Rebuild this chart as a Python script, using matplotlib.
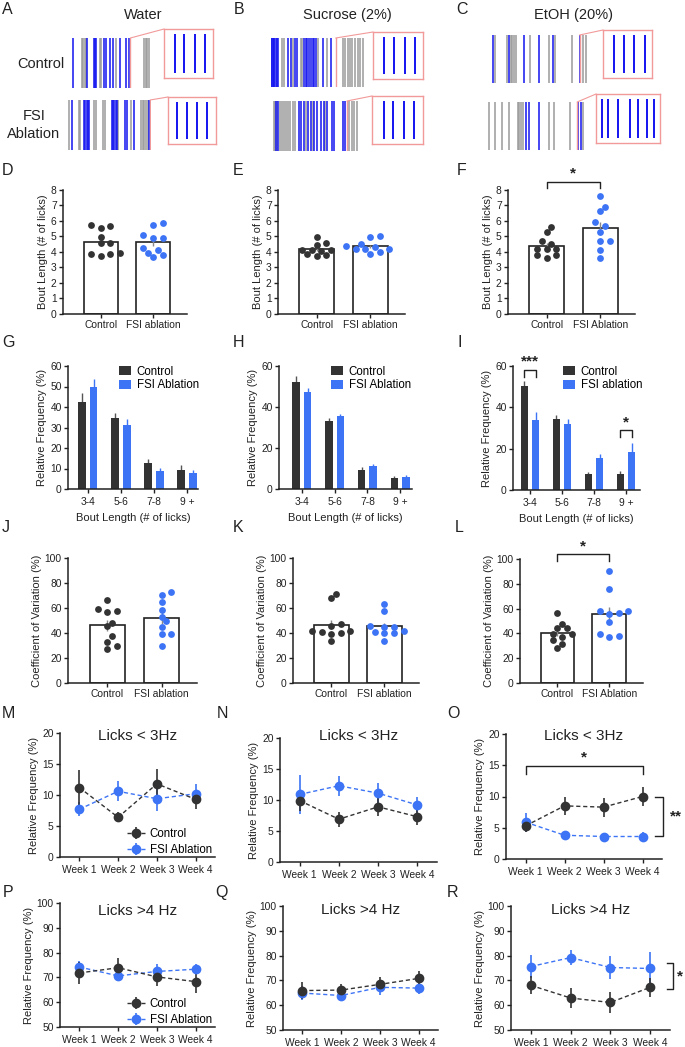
import matplotlib
matplotlib.use('Agg')
import matplotlib.pyplot as plt
import matplotlib.transforms as mtransforms
from matplotlib.patches import ConnectionPatch
import numpy as np

plt.rcParams['font.family'] = ['Liberation Sans', 'DejaVu Sans']

# ============================================================
# Data
# ============================================================
# raster lick times (a.u.) for example sessions: (window, blue, gray, zoomed time)
water_ctrl_win = (165, 345)
water_ctrl_blue = [167, 200, 214, 217, 220, 238, 243, 251, 259, 274, 287, 295]
water_ctrl_gray = [188, 191, 194, 197, 229, 232, 266, 329, 333, 337, 341]
water_ctrl_zoom = 298
water_fsi_win = (155, 345)
water_fsi_blue = [165, 192, 195, 198, 201, 204, 255, 258, 261, 264, 267, 285, 290, 305, 341]
water_fsi_gray = [157, 180, 183, 215, 220, 236, 240, 270, 300, 322, 326, 330, 334, 338]
water_fsi_zoom = 343
suc_ctrl_win = (620, 835)
suc_ctrl_blue = [620, 622, 624, 626, 628, 631, 634, 637, 658, 665, 675, 679, 695, 699,
                 703, 707, 711, 715, 719, 723, 738, 758]
suc_ctrl_gray = [645, 650, 670, 688, 692, 728, 748, 785, 790, 795, 800, 806, 812, 818, 824, 830]
suc_ctrl_zoom = 768
suc_fsi_win = (625, 825)
suc_fsi_blue = [633, 637, 685, 690, 697, 705, 712, 720, 727, 735, 743, 750, 760, 765, 785, 791]
suc_fsi_gray = [627, 630, 634, 640, 645, 650, 655, 660, 665, 670, 675, 700, 718, 745,
                800, 806, 812, 818]
suc_fsi_zoom = 795
etoh_ctrl_win = (1125, 1345)
etoh_ctrl_blue = [1130, 1166, 1200, 1235, 1268, 1330]
etoh_ctrl_gray = [1135, 1162, 1170, 1174, 1178, 1182, 1215, 1258, 1272, 1310, 1336, 1343]
etoh_ctrl_zoom = 1328
etoh_fsi_win = (1118, 1340)
etoh_fsi_blue = [1205, 1212, 1235, 1325, 1330]
etoh_fsi_gray = [1120, 1135, 1150, 1165, 1186, 1190, 1194, 1198, 1258, 1270, 1305, 1336]
etoh_fsi_zoom = 1322

# zoomed-in burst (fraction of inset width)
water_ctrl_burst = [0.22, 0.40, 0.63, 0.83]
water_fsi_burst = [0.18, 0.39, 0.61, 0.82]
suc_ctrl_burst = [0.22, 0.42, 0.63, 0.84]
suc_fsi_burst = [0.23, 0.41, 0.63, 0.83]
etoh_ctrl_burst = [0.22, 0.43, 0.64, 0.85]
etoh_fsi_burst = [0.10, 0.19, 0.34, 0.53, 0.66, 0.79, 0.91]

# bout length (# of licks), one point per animal
D_ctrl = [5.75, 5.7, 5.55, 4.95, 4.55, 4.6, 3.75, 3.95, 3.85, 3.9]
D_fsi = [5.75, 5.9, 5.1, 4.9, 4.9, 4.1, 3.95, 4.25, 3.65, 3.8]
E_ctrl = [4.47, 4.6, 4.95, 4.13, 4.13, 4.04, 3.8, 3.85, 3.74, 4.1]
E_fsi = [4.5, 4.3, 4.99, 5.03, 4.17, 4.17, 4.39, 3.87, 4.17, 4.02]
F_ctrl = [4.53, 4.2, 5.26, 5.6, 3.78, 4.74, 4.2, 3.78, 3.6, 4.2]
F_fsi = [7.62, 6.67, 6.93, 5.92, 5.69, 5.32, 4.68, 4.68, 4.14, 3.6]

# relative frequency of bout lengths (%)
bins = ['3-4', '5-6', '7-8', '9 +']
G_ctrl = [42.2, 34.8, 12.6, 9.4]
G_ctrl_err = [4.7, 2.1, 2.1, 2.4]
G_fsi = [49.8, 31.4, 8.7, 7.6]
G_fsi_err = [4.1, 2.6, 1.7, 1.8]
H_ctrl = [52.0, 33.0, 9.4, 5.2]
H_ctrl_err = [3.2, 1.5, 1.4, 1.1]
H_fsi = [47.1, 35.5, 11.3, 5.8]
H_fsi_err = [2.3, 1.3, 1.1, 1.1]
I_ctrl = [50.5, 34.2, 7.6, 7.6]
I_ctrl_err = [2.4, 2.1, 1.3, 1.8]
I_fsi = [33.9, 31.9, 15.3, 18.5]
I_fsi_err = [4.0, 2.3, 2.1, 4.1]

# coefficient of variation (%)
J_ctrl = [59.5, 66.1, 56.8, 57.3, 48.3, 45.3, 37.9, 27.5, 33.1, 29.6]
J_fsi = [70.7, 72.5, 64.8, 58.4, 49.3, 53.1, 45.1, 39.5, 38.9, 29.3]
K_ctrl = [71.0, 67.7, 47.5, 41.3, 39.7, 41.3, 33.9, 45.3, 39.2, 41.0]
K_fsi = [63.0, 57.3, 41.6, 45.0, 45.3, 45.0, 40.0, 40.0, 33.9, 41.0]
L_ctrl = [44.5, 47.9, 44.5, 56.8, 39.7, 39.7, 37.0, 34.3, 28.4, 31.4]
L_fsi = [90.1, 75.6, 55.8, 58.2, 58.2, 56.8, 49.3, 37.5, 39.9, 38.3]

# weekly relative frequency (%)
weeks = ['Week 1', 'Week 2', 'Week 3', 'Week 4']
M_ctrl = [11.2, 6.4, 11.8, 9.3]
M_ctrl_err = [2.8, 0.8, 2.4, 1.5]
M_fsi = [7.7, 10.6, 9.4, 10.2]
M_fsi_err = [1.1, 1.6, 2.0, 1.6]
N_ctrl = [9.9, 6.9, 8.9, 7.3]
N_ctrl_err = [1.6, 1.2, 1.4, 1.4]
N_fsi = [10.9, 12.3, 11.1, 9.2]
N_fsi_err = [3.1, 1.6, 1.6, 1.3]
O_ctrl = [5.3, 8.5, 8.3, 10.0]
O_ctrl_err = [1.0, 1.4, 1.5, 1.5]
O_fsi = [5.9, 3.8, 3.6, 3.6]
O_fsi_err = [1.5, 0.5, 0.4, 0.7]
P_ctrl = [71.8, 73.9, 70.2, 68.3]
P_ctrl_err = [4.3, 3.8, 3.8, 4.6]
P_fsi = [74.2, 70.6, 72.4, 73.3]
P_fsi_err = [2.3, 1.5, 3.0, 2.0]
Q_ctrl = [65.9, 66.1, 68.4, 70.8]
Q_ctrl_err = [3.5, 2.5, 3.0, 3.0]
Q_fsi = [64.9, 63.9, 67.2, 66.9]
Q_fsi_err = [3.0, 1.2, 3.0, 2.5]
R_ctrl = [68.0, 62.9, 61.1, 67.2]
R_ctrl_err = [3.6, 4.2, 4.2, 3.8]
R_fsi = [75.6, 79.2, 75.2, 74.8]
R_fsi_err = [4.5, 3.0, 4.5, 6.5]
# ============================================================

DARK = '#333333'
BLUE = '#3d74f5'
RBLUE = '#1414f0'
RGRAY = '#9a9a9a'
PINK = '#f29a9a'
TXT = '#222222'

W, H = 685, 1047
fig = plt.figure(figsize=(W / 100, H / 100), dpi=100)


def add_ax(l, t, r, b):
    return fig.add_axes([l / W, 1 - b / H, (r - l) / W, (b - t) / H])


def ftext(x, y, s, **kw):
    fig.text(x / W, 1 - y / H, s, color=TXT, **kw)


def style(ax):
    for s in ['top', 'right']:
        ax.spines[s].set_visible(False)
    for s in ['left', 'bottom']:
        ax.spines[s].set_linewidth(1.1)
        ax.spines[s].set_color(TXT)
    ax.tick_params(labelsize=7.4, length=3, width=1, pad=1.5, colors=TXT)


# ---------------- A-C rasters ----------------
def raster(rect, inset_rect, win, blue, gray, zoom_t, burst):
    ax = add_ax(*rect)
    ax.vlines(gray, 0, 1, color=RGRAY, lw=1.1)
    ax.vlines(blue, 0, 1, color=RBLUE, lw=1.1)
    ax.axvline(zoom_t, color=PINK, lw=1.0)
    ax.set_xlim(*win)
    ax.set_ylim(0, 1)
    ax.axis('off')
    ins = add_ax(*inset_rect)
    ins.vlines(burst, 0.1, 0.9, color=RBLUE, lw=1.4)
    ins.set_xlim(0, 1)
    ins.set_ylim(0, 1)
    ins.set_xticks([])
    ins.set_yticks([])
    for s in ins.spines.values():
        s.set_color(PINK)
        s.set_linewidth(1.0)
    con = ConnectionPatch(xyA=(zoom_t, 1), coordsA=ax.transData,
                          xyB=(0, 1), coordsB=ins.transAxes, color=PINK, lw=0.8)
    fig.add_artist(con)


raster((72, 38, 151, 88), (164, 29, 213, 78), water_ctrl_win, water_ctrl_blue,
       water_ctrl_gray, water_ctrl_zoom, water_ctrl_burst)
raster((68, 100, 151, 150), (168, 97, 216, 144), water_fsi_win, water_fsi_blue,
       water_fsi_gray, water_fsi_zoom, water_fsi_burst)
raster((271, 38, 365, 87), (373, 32, 423, 79), suc_ctrl_win, suc_ctrl_blue,
       suc_ctrl_gray, suc_ctrl_zoom, suc_ctrl_burst)
raster((273, 101, 360, 151), (372, 96, 423, 144), suc_fsi_win, suc_fsi_blue,
       suc_fsi_gray, suc_fsi_zoom, suc_fsi_burst)
raster((491, 35, 587, 83), (603, 30, 652, 78), etoh_ctrl_win, etoh_ctrl_blue,
       etoh_ctrl_gray, etoh_ctrl_zoom, etoh_ctrl_burst)
raster((488, 102, 585, 150), (596, 94, 660, 143), etoh_fsi_win, etoh_fsi_blue,
       etoh_fsi_gray, etoh_fsi_zoom, etoh_fsi_burst)

ftext(143, 15, 'Water', fontsize=10.5, ha='center', va='center')
ftext(347, 15, 'Sucrose (2%)', fontsize=10.5, ha='center', va='center')
ftext(574, 15, 'EtOH (20%)', fontsize=10.5, ha='center', va='center')
ftext(41, 64, 'Control', fontsize=10.5, ha='center', va='center')
ftext(34, 125, 'FSI\nAblation', fontsize=10.5, ha='center', va='center', linespacing=1.3)


# ---------------- dot + bar panels ----------------
def swarm_offsets(ys, xpx, ypx, d=6.0):
    # simple beeswarm: shift points sideways until they stop overlapping
    placed = []
    order = np.argsort(ys)
    res = np.zeros(len(ys))
    cands = [0]
    for k in range(1, 8):
        cands += [k * d * 0.8, -k * d * 0.8]
    for i in order:
        y = ys[i]
        for c in cands:
            if all(np.hypot(c - px, (y - py) * ypx) >= d for px, py in placed):
                placed.append((c, y))
                res[i] = c / xpx
                break
    return res


def dot_bar(rect, ctrl, fsi, labels, ylim, yticks, ylabel):
    ax = add_ax(*rect)
    style(ax)
    xlim = (-0.72, 1.65)
    xpx = (rect[2] - rect[0]) / (xlim[1] - xlim[0])
    ypx = (rect[3] - rect[1]) / (ylim[1] - ylim[0])
    for i, (vals, col) in enumerate([(ctrl, DARK), (fsi, BLUE)]):
        vals = np.array(vals)
        m = vals.mean()
        sem = vals.std(ddof=1) / np.sqrt(len(vals))
        ax.bar(i, m, width=0.65, color='white', edgecolor=TXT, lw=1.2, zorder=1)
        ax.errorbar(i, m, yerr=sem, color='#888888', lw=1, capsize=0, zorder=2)
        xs = i + swarm_offsets(vals, xpx, ypx)
        ax.scatter(xs, vals, s=24, color=col, lw=0, zorder=3, clip_on=False)
    ax.set_xlim(*xlim)
    ax.set_ylim(*ylim)
    ax.set_yticks(yticks)
    ax.set_xticks([0, 1])
    ax.set_xticklabels(labels)
    ax.set_ylabel(ylabel, fontsize=8, color=TXT, labelpad=2)
    return ax


def bracket(ax, x0, x1, ylow, yhigh, txt, ty):
    ax.plot([x0, x0, x1, x1], [ylow, yhigh, yhigh, ylow], color=TXT, lw=1, clip_on=False)
    ax.text((x0 + x1) / 2, ty, txt, ha='center', va='center', fontsize=11,
            fontweight='bold', color=TXT, clip_on=False)


bl = 'Bout Length (# of licks)'
dot_bar((63, 190, 187, 314), D_ctrl, D_fsi, ['Control', 'FSI ablation'], (0, 8), range(9), bl)
dot_bar((278, 190, 405, 314), E_ctrl, E_fsi, ['Control', 'FSI ablation'], (0, 8), range(9), bl)
axF = dot_bar((508, 190, 635, 314), F_ctrl, F_fsi, ['Control', 'FSI Ablation'], (0, 8), range(9), bl)
bracket(axF, 0, 1, 8.1, 8.5, '*', 9.05)

cv = 'Coefficient of Variation (%)'
dot_bar((68, 558, 197, 683), J_ctrl, J_fsi, ['Control', 'FSI ablation'], (0, 100), range(0, 101, 20), cv)
dot_bar((293, 558, 419, 683), K_ctrl, K_fsi, ['Control', 'FSI ablation'], (0, 100), range(0, 101, 20), cv)
axL = dot_bar((520, 559, 643, 683), L_ctrl, L_fsi, ['Control', 'FSI Ablation'], (0, 100), range(0, 101, 20), cv)
bracket(axL, 0, 1, 98.7, 104, '*', 110)


# ---------------- grouped bars ----------------
def grouped(rect, c, ce, f, fe, yticks, fsi_label, xlim):
    ax = add_ax(*rect)
    style(ax)
    x = np.arange(len(bins))
    off, w = 0.175, 0.23
    ax.bar(x - off, c, width=w, color=DARK, zorder=2, label='Control')
    ax.errorbar(x - off, c, yerr=[np.zeros(4), ce], fmt='none', ecolor='#555555',
                elinewidth=1, capsize=0, zorder=1)
    ax.bar(x + off, f, width=w, color=BLUE, zorder=2, label=fsi_label)
    ax.errorbar(x + off, f, yerr=[np.zeros(4), fe], fmt='none', ecolor=BLUE,
                elinewidth=1, capsize=0, zorder=1)
    ax.set_xlim(*xlim)
    ax.set_ylim(0, 60)
    ax.set_yticks(yticks)
    ax.set_xticks(x)
    ax.set_xticklabels(bins)
    ax.tick_params(axis='x', pad=3)
    ax.set_ylabel('Relative Frequency (%)', fontsize=8, color=TXT, labelpad=2)
    ax.set_xlabel(bl, fontsize=8, color=TXT, labelpad=4)
    ax.legend(loc='upper left', bbox_to_anchor=(0.36, 1.04), frameon=False, fontsize=8.3,
              handlelength=1.0, handleheight=0.9, handletextpad=0.5, labelspacing=0.15,
              borderaxespad=0)
    return ax


grouped((68, 366, 198, 489), G_ctrl, G_ctrl_err, G_fsi, G_fsi_err, range(0, 61, 10),
        'FSI Ablation', (-0.6, 3.33))
grouped((279, 366, 412, 489), H_ctrl, H_ctrl_err, H_fsi, H_fsi_err, range(0, 61, 20),
        'FSI Ablation', (-0.7, 3.36))
axI = grouped((513, 366, 640, 490), I_ctrl, I_ctrl_err, I_fsi, I_fsi_err, range(0, 61, 20),
              'FSI ablation', (-0.53, 3.44))
bracket(axI, -0.175, 0.175, 54.8, 58, '***', 62)
bracket(axI, 2.825, 3.175, 25.5, 29, '*', 32.5)


# ---------------- weekly line panels ----------------
def weekly(rect, c, ce, f, fe, ylim, yticks, title, title_y, legend=False):
    ax = add_ax(*rect)
    style(ax)
    x = np.arange(len(weeks))
    hf = ax.errorbar(x, f, yerr=fe, fmt='o--', color=BLUE, ms=6, lw=1, elinewidth=1.2,
                     capsize=0, dashes=(3, 2), clip_on=False, label='FSI Ablation')
    hc = ax.errorbar(x, c, yerr=ce, fmt='o--', color=DARK, ms=6, lw=1, elinewidth=1.2,
                     capsize=0, dashes=(3, 2), clip_on=False, label='Control')
    ax.set_xlim(-0.5, 3.5)
    ax.set_ylim(*ylim)
    ax.set_yticks(yticks)
    ax.set_xticks(x)
    ax.set_xticklabels(weeks)
    ax.tick_params(axis='x', pad=2.5)
    ax.set_ylabel('Relative Frequency (%)', fontsize=8, color=TXT, labelpad=2)
    ax.text(0.5, title_y, title, transform=ax.transAxes, ha='center', va='center',
            fontsize=11, color=TXT)
    if legend:
        ax.legend([hc, hf], ['Control', 'FSI Ablation'], loc='lower left',
                  bbox_to_anchor=(0.4, -0.03), frameon=False, fontsize=8.3,
                  handlelength=1.6, handletextpad=0.4, labelspacing=0.35, borderaxespad=0)
    return ax


def side_bracket(ax, y0, y1, x_in, x_out, txt, tx):
    tr = mtransforms.blended_transform_factory(ax.transAxes, ax.transData)
    ax.plot([x_in, x_out, x_out, x_in], [y0, y0, y1, y1], color=TXT, lw=1,
            transform=tr, clip_on=False)
    ax.text(tx, (y0 + y1) / 2, txt, transform=tr, ha='left', va='center',
            fontsize=11, fontweight='bold', color=TXT, clip_on=False)


weekly((60, 733, 215, 857), M_ctrl, M_ctrl_err, M_fsi, M_fsi_err, (0, 20), range(0, 21, 5),
       'Licks < 3Hz', 0.975, legend=True)
weekly((280, 738, 437, 862), N_ctrl, N_ctrl_err, N_fsi, N_fsi_err, (0, 20), range(0, 21, 5),
       'Licks < 3Hz', 1.015)
axO = weekly((506, 734, 662, 859), O_ctrl, O_ctrl_err, O_fsi, O_fsi_err, (0, 20),
             range(0, 21, 5), 'Licks < 3Hz', 0.985)
axO.plot([0, 0, 3, 3], [13.6, 14.9, 14.9, 13.6], color=TXT, lw=1)
axO.text(1.5, 16.2, '*', ha='center', va='center', fontsize=11, fontweight='bold', color=TXT)
side_bracket(axO, 10.0, 3.7, 0.955, 1.006, '**', 1.05)

weekly((60, 903, 215, 1027), P_ctrl, P_ctrl_err, P_fsi, P_fsi_err, (50, 100),
       range(50, 101, 10), 'Licks >4 Hz', 0.935, legend=True)
weekly((283, 906, 438, 1030), Q_ctrl, Q_ctrl_err, Q_fsi, Q_fsi_err, (50, 100),
       range(50, 101, 10), 'Licks >4 Hz', 0.97)
axR = weekly((511, 906, 670, 1030), R_ctrl, R_ctrl_err, R_fsi, R_fsi_err, (50, 100),
             range(50, 101, 10), 'Licks >4 Hz', 0.97)
side_bracket(axR, 77, 66.5, 0.98, 1.02, '*', 1.045)

# panel letters
letters = [('A', 2, 2), ('B', 234, 2), ('C', 456, 2),
           ('D', 2, 163), ('E', 233, 163), ('F', 457, 163),
           ('G', 2, 335), ('H', 233, 335), ('I', 457, 335),
           ('J', 2, 520), ('K', 233, 520), ('L', 455, 520),
           ('M', 2, 706), ('N', 217, 706), ('O', 447, 706),
           ('P', 3, 885), ('Q', 215, 885), ('R', 447, 885)]
for s, x, y in letters:
    ftext(x, y, s, fontsize=11.5, ha='left', va='top')

fig.savefig('out.png', dpi=100)
